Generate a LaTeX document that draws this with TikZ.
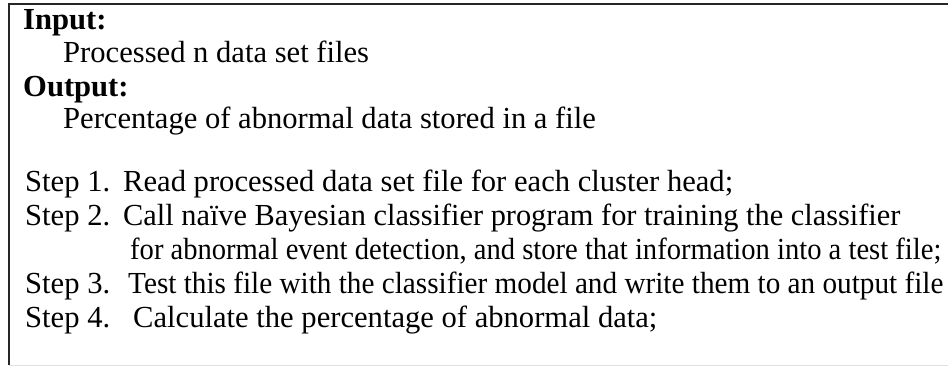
\documentclass[tikz,border=0pt]{standalone}
\usepackage{graphicx}
\usepackage{fontspec}
\setmainfont{Liberation Serif}
\begin{document}
\begin{tikzpicture}[x=1pt,y=-1pt,
  txt/.style={anchor=base west,inner sep=0pt,font=\fontsize{30.6}{32}\selectfont},
  hd/.style={txt,font=\fontsize{30.6}{32}\selectfont\bfseries}]
\useasboundingbox (0,0) rectangle (948,366);
\coordinate (tl) at (9,4);
\coordinate (tr) at (948,4);
\coordinate (bl) at (9,365);
\coordinate (br) at (948,365);
\draw[line width=2.5pt,black!85] (tr) -- (tl) -- (bl);
\draw[line width=1pt,black!12] (bl) -- (br);
\node[hd] (in) at (23,30) {Input:};
\node[txt] (inv) at (63,63) {Processed n data set files};
\node[hd] (out) at (23,97) {Output:};
\node[txt] (outv) at (63,129) {Percentage of abnormal data stored in a file};
\node[txt] (s1) at (25,192) {Step 1.};
\node[txt] (s1t) at (123,192) {Read processed data set file for each cluster head;};
\node[txt] (s2) at (25,226) {Step 2.};
\node[txt] (s2t) at (123,226) {\scalebox{0.992}[1]{Call naïve Bayesian classifier program for training the classifier}};
\node[txt] (s2u) at (130,260) {\scalebox{0.934}[1]{for abnormal event detection, and store that information into a test file;}};
\node[txt] (s3) at (25,293) {Step 3.};
\node[txt] (s3t) at (128,293) {\scalebox{0.955}[1]{Test this file with the classifier model and write them to an output file}};
\node[txt] (s4) at (25,327) {Step 4.};
\node[txt] (s4t) at (133,327) {Calculate the percentage of abnormal data;};
\end{tikzpicture}
\end{document}
